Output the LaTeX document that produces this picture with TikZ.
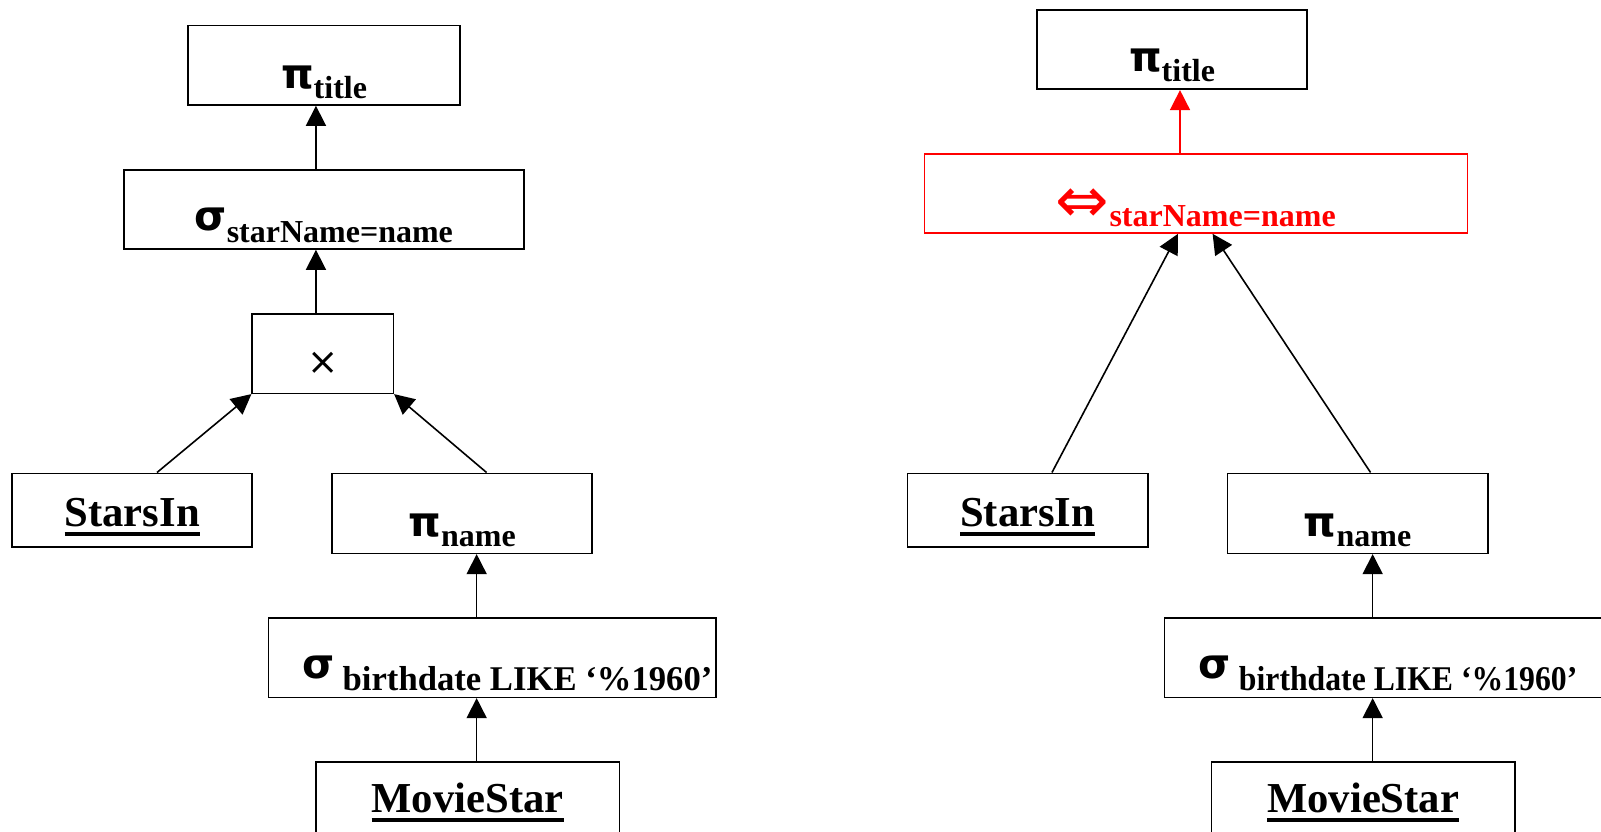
\documentclass[tikz,border=0pt]{standalone}
\usepackage{graphicx}
\usepackage{fontspec}
\setmainfont{Liberation Serif}
\newfontfamily\grkfont{DejaVu Sans}
\usetikzlibrary{arrows.meta,fit,calc}
\definecolor{jred}{RGB}{255,0,0}

% text sizes
\newcommand\relf{\fontsize{32}{36}\selectfont\bfseries}
\newcommand\subf{\fontsize{24}{28}\selectfont\bfseries}
\newcommand\subfb{\fontsize{26}{30}\selectfont\bfseries}
\newcommand\grk{\grkfont\bfseries\fontsize{31}{35}\selectfont}
% relation names: bold with a heavy rule underneath
\newcommand\relname[1]{\setbox0=\hbox{#1}\rlap{\rule[-7pt]{\wd0}{3pt}}\box0}

\begin{document}
\begin{tikzpicture}[x=0.75pt,y=-0.75pt,
  box/.style={draw, line width=1.2pt, inner sep=0pt},
  lbl/.style={anchor=base, inner sep=0pt},
  arr/.style={line width=1.2pt, -{Triangle[length=15pt,width=15pt]}}]
\useasboundingbox (0,0) rectangle (1601,831);
\clip (0,0) rectangle (1601,831);

% ---------- left plan ----------
\node[box, fit={(188,25.7)(460,105)}] (title1) {};
\node[box, fit={(123.8,170)(523.7,249)}] (sig1) {};
\node[box, fit={(252.2,313.7)(393.3,393.3)}] (cross) {};
\node[box, fit={(12.2,473.3)(252.2,547)}] (stars1) {};
\node[box, fit={(332.1,473.3)(592,553.3)}] (piname1) {};
\node[box, fit={(268.3,617.7)(716,697.3)}] (sigb1) {};
\node[box, fit={(315.8,761.7)(619.5,870)}] (movie1) {};

\node[lbl] (title1-t) at ($(title1.south)+(0,-7.5)$) {\raisebox{7.5pt}{\grk π}\subf title};
\node[lbl] (sig1-t) at ($(sig1.south)+(0,-7.5)$) {\raisebox{9pt}{\grk σ}\subf starName=name};
\node[lbl] (cross-t) at ($(cross.center)+(0,21.2)$) {\grkfont\fontsize{28}{30}\selectfont ×};
\node[lbl] (stars1-t) at ($(stars1.south)+(0,-21)$) {\relf\relname{StarsIn}};
\node[lbl] (piname1-t) at ($(piname1.south)+(0,-7.5)$) {\raisebox{7.5pt}{\grk π}\subf name};
\node[lbl] (sigb1-t) at ($(sigb1.south)+(15.3,-8)$) {\raisebox{9pt}{\grk σ}\hspace{6pt}\subfb birthdate LIKE ‘\%1960’};
\node[lbl] (movie1-t) at ($(movie1.north)+(0,51.6)$) {\relf\relname{MovieStar}};

\coordinate (a1) at ($(sig1.north)+(-7.8,0)$);
\draw[arr] (a1) -- (a1 |- title1.south);
\coordinate (a2) at ($(cross.north)+(-6.8,0)$);
\draw[arr] (a2) -- (a2 |- sig1.south);
\coordinate (a3) at ($(stars1.north)+(24.8,0)$);
\draw[arr] (a3) -- (cross.south west);
\coordinate (a4) at ($(piname1.north)+(24.5,0)$);
\draw[arr] (a4) -- (cross.south east);
\coordinate (a5) at ($(sigb1.north)+(-15.5,0)$);
\draw[arr] (a5) -- (a5 |- piname1.south);
\coordinate (a6) at ($(movie1.north)+(9,0)$);
\draw[arr] (a6) -- (a6 |- sigb1.south);

% ---------- right plan ----------
\node[box, fit={(1037,10)(1307,89.3)}] (title2) {};
\node[box, draw=jred, fit={(924.3,154)(1467.3,233)}] (join) {};
\node[box, fit={(907.5,473.3)(1148,547)}] (stars2) {};
\node[box, fit={(1227.4,473.3)(1487.7,553.3)}] (piname2) {};
\node[box, fit={(1164.3,617.7)(1612,697.3)}] (sigb2) {};
\node[box, fit={(1211.6,761.7)(1514.7,870)}] (movie2) {};

\node[lbl] (title2-t) at ($(title2.south)+(0,-9)$) {\raisebox{7.5pt}{\grk π}\subf title};
\node[lbl, text=jred] (join-t) at ($(join.south)+(0,-7)$) {\raisebox{3.3pt}{\grkfont\fontsize{48}{52}\selectfont ⇔}\subf starName=name};
\node[lbl] (stars2-t) at ($(stars2.south)+(0,-21)$) {\relf\relname{StarsIn}};
\node[lbl] (piname2-t) at ($(piname2.south)+(0,-7.5)$) {\raisebox{7.5pt}{\grk π}\subf name};
\node[lbl, anchor=base west] (sigb2-t) at ($(sigb2.south west)+(35,-8)$) {\raisebox{9pt}{\grk σ}\hspace{6pt}\subfb\scalebox{0.915}[1]{birthdate LIKE ‘\%1960’}};
\node[lbl] (movie2-t) at ($(movie2.north)+(0,51.6)$) {\relf\relname{MovieStar}};

\coordinate (b1) at ($(join.north)+(-15.8,0)$);
\draw[arr, jred] (b1) -- (b1 |- title2.south);
\coordinate (b2) at ($(stars2.north)+(24.2,0)$);
\draw[arr] (b2) -- ($(join.south)+(-17.8,0)$);
\coordinate (b3) at ($(piname2.north)+(13,0)$);
\draw[arr] (b3) -- ($(join.south)+(16.8,0)$);
\coordinate (b4) at ($(sigb2.north)+(-15.5,0)$);
\draw[arr] (b4) -- (b4 |- piname2.south);
\coordinate (b5) at ($(movie2.north)+(9.5,0)$);
\draw[arr] (b5) -- (b5 |- sigb2.south);
\end{tikzpicture}
\end{document}
